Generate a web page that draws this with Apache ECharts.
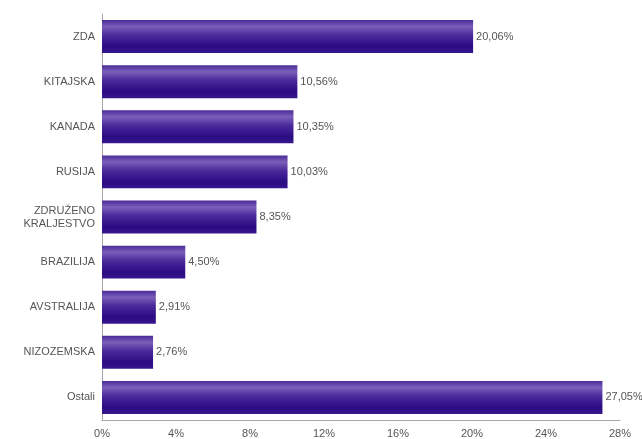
<!DOCTYPE html>
<html>
<head>
<meta charset="utf-8">
<script src="https://cdn.jsdelivr.net/npm/echarts@6/dist/echarts.min.js"></script>
<style>
  html, body { margin: 0; padding: 0; background: #fff; }
  #main { width: 642px; height: 439px; }
</style>
</head>
<body>
<div id="main"></div>
<script>
// podatki
var categories = ['ZDA', 'KITAJSKA', 'KANADA', 'RUSIJA', 'ZDRUŽENO\nKRALJESTVO', 'BRAZILIJA', 'AVSTRALIJA', 'NIZOZEMSKA', 'Ostali'];
var values = [20.06, 10.56, 10.35, 10.03, 8.35, 4.50, 2.91, 2.76, 27.05];
var tickStep = 4;
var axisMax = 28;

var myChart = echarts.init(document.getElementById('main'));

var barColor = new echarts.graphic.LinearGradient(0, 0, 0, 1, [
    { offset: 0, color: '#4a2b98' },
    { offset: 0.2, color: '#7a5fba' },
    { offset: 0.45, color: '#4b2c9c' },
    { offset: 0.8, color: '#2a0b82' },
    { offset: 1, color: '#36178c' }
]);

var option = {
    animation: false,
    grid: { left: 102, right: 22, top: 14, bottom: 19, containLabel: false },
    xAxis: {
        type: 'value',
        min: 0,
        max: axisMax,
        interval: tickStep,
        axisLine: { show: true, lineStyle: { color: '#a8a8a8' } },
        axisTick: { show: false },
        splitLine: { show: false },
        axisLabel: {
            color: '#555',
            fontFamily: 'Liberation Sans',
            fontSize: 11,
            margin: 8,
            formatter: function(v) { return v + '%'; }
        }
    },
    yAxis: {
        type: 'category',
        inverse: true,
        data: categories,
        axisLine: { show: true, lineStyle: { color: '#a8a8a8' } },
        axisTick: { show: false },
        axisLabel: {
            color: '#555',
            fontFamily: 'Liberation Sans',
            fontSize: 11,
            lineHeight: 13,
            margin: 7
        }
    },
    series: [{
        type: 'bar',
        data: values,
        barWidth: '73%',
        itemStyle: { color: barColor },
        label: {
            show: true,
            position: 'right',
            distance: 3,
            color: '#555',
            fontFamily: 'Liberation Sans',
            fontSize: 11,
            formatter: function(p) { return p.value.toFixed(2).replace('.', ',') + '%'; }
        }
    }]
};

myChart.setOption(option);
</script>
</body>
</html>
